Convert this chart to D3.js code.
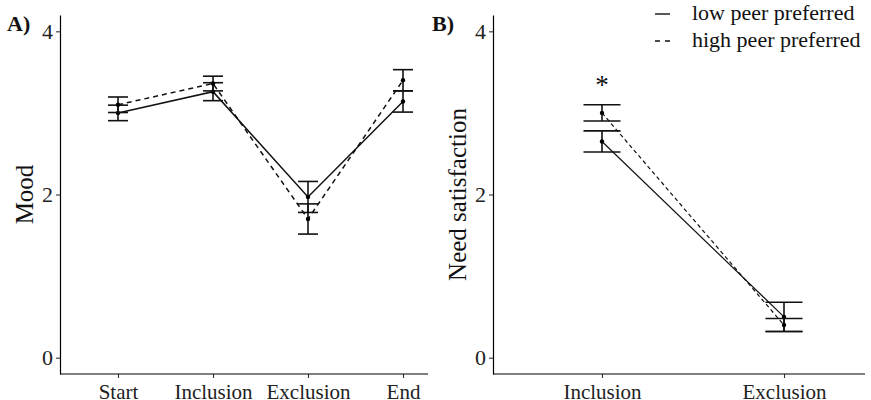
<!DOCTYPE html>
<html>
<head>
<meta charset="utf-8">
<script src="https://cdn.jsdelivr.net/npm/d3@7"></script>
<style>
  body { margin: 0; background: #fff; }
  svg { display: block; font-family: "Liberation Serif", "Times New Roman", serif; }
</style>
</head>
<body>
<div id="chart"></div>
<script>
// mood panel (A)
const moodPhases = ["Start", "Inclusion", "Exclusion", "End"];
const moodLow = [3.00, 3.26, 1.97, 3.14];
const moodLowSE = [0.095, 0.11, 0.19, 0.13];
const moodHigh = [3.10, 3.36, 1.70, 3.40];
const moodHighSE = [0.095, 0.09, 0.185, 0.13];

// need satisfaction panel (B)
const needPhases = ["Inclusion", "Exclusion"];
const needLow = [2.65, 0.50];
const needLowSE = [0.13, 0.18];
const needHigh = [3.00, 0.40];
const needHighSE = [0.10, 0.08];

const yTicks = [0, 2, 4];
const legendLabels = ["low peer preferred", "high peer preferred"];

const width = 871, height = 400;

var svg = d3.select("#chart")
    .append("svg")
    .attr("width", width)
    .attr("height", height);

function drawPanel(opts) {
    const x = d3.scalePoint()
        .domain(opts.phases)
        .range(opts.xRange);
    const y = d3.scaleLinear()
        .domain([-0.2, 4.2])
        .range([374, 15]);

    const g = svg.append("g");

    // axes
    const yAxis = g.append("g")
        .attr("transform", `translate(${opts.axisLeft},0)`)
        .call(d3.axisLeft(y).tickValues(yTicks).tickFormat(d3.format("d"))
            .tickSize(4).tickSizeOuter(0).tickPadding(3));
    yAxis.select(".domain").attr("stroke", "#000").attr("stroke-width", 1.2);
    yAxis.selectAll(".tick line").attr("stroke", "#333").attr("stroke-width", 1.1);
    yAxis.selectAll(".tick text")
        .attr("font-size", 22)
        .attr("fill", "#222")
        .attr("font-family", "Liberation Serif");

    const xAxis = g.append("g")
        .attr("transform", "translate(0,374)")
        .call(d3.axisBottom(x).tickSize(4).tickSizeOuter(0).tickPadding(6));
    xAxis.select(".domain").remove();
    xAxis.append("line")
        .attr("x1", opts.axisLeft)
        .attr("x2", opts.axisRight)
        .attr("stroke", "#000")
        .attr("stroke-width", 1.2);
    xAxis.selectAll(".tick line").attr("stroke", "#333").attr("stroke-width", 1.1);
    xAxis.selectAll(".tick text")
        .attr("font-size", 21)
        .attr("fill", "#222")
        .attr("font-family", "Liberation Serif");

    // axis title
    g.append("text")
        .attr("transform", `translate(${opts.titleX},${(y(-0.2) + y(4.2)) / 2}) rotate(-90)`)
        .attr("text-anchor", "middle")
        .attr("dominant-baseline", "central")
        .attr("font-size", 25)
        .attr("fill", "#111")
        .text(opts.title);

    // panel tag
    g.append("text")
        .attr("x", opts.tagX)
        .attr("y", 31)
        .attr("font-size", 22)
        .attr("font-weight", "bold")
        .attr("fill", "#111")
        .text(opts.tag);

    const series = [
        {mean: opts.low, se: opts.lowSE, dash: null},
        {mean: opts.high, se: opts.highSE, dash: opts.dash}
    ];

    const line = d3.line()
        .x((d) => x(d.phase))
        .y((d) => y(d.v));

    series.forEach(function(s) {
        const pts = opts.phases.map((p, i) => ({phase: p, v: s.mean[i], se: s.se[i]}));

        g.append("path")
            .datum(pts)
            .attr("d", line)
            .attr("fill", "none")
            .attr("stroke", "#111")
            .attr("stroke-width", opts.lineWidth)
            .attr("stroke-dasharray", s.dash);

        const bars = g.selectAll(null)
            .data(pts)
            .enter()
            .append("g");
        bars.append("line")
            .attr("x1", (d) => x(d.phase))
            .attr("x2", (d) => x(d.phase))
            .attr("y1", (d) => y(d.v - d.se))
            .attr("y2", (d) => y(d.v + d.se))
            .attr("stroke", "#111")
            .attr("stroke-width", 1.6);
        [-1, 1].forEach(function(sign) {
            bars.append("line")
                .attr("x1", (d) => x(d.phase) - opts.capWidth / 2)
                .attr("x2", (d) => x(d.phase) + opts.capWidth / 2)
                .attr("y1", (d) => y(d.v + sign * d.se))
                .attr("y2", (d) => y(d.v + sign * d.se))
                .attr("stroke", "#111")
                .attr("stroke-width", 1.6);
        });
        bars.append("circle")
            .attr("cx", (d) => x(d.phase))
            .attr("cy", (d) => y(d.v))
            .attr("r", 2.2)
            .attr("fill", "#000");
    });

    return {x: x, y: y, g: g};
}

drawPanel({
    phases: moodPhases, low: moodLow, lowSE: moodLowSE, high: moodHigh, highSE: moodHighSE,
    xRange: [118, 403], axisLeft: 60, axisRight: 428,
    title: "Mood", titleX: 24, tag: "A)", tagX: 7,
    capWidth: 20, dash: "5,4", lineWidth: 1.5
});

const panelB = drawPanel({
    phases: needPhases, low: needLow, lowSE: needLowSE, high: needHigh, highSE: needHighSE,
    xRange: [602, 784], axisLeft: 493, axisRight: 865,
    title: "Need satisfaction", titleX: 457, tag: "B)", tagX: 432,
    capWidth: 37, dash: "4,3", lineWidth: 1.2
});

// significance marker
panelB.g.append("text")
    .attr("x", panelB.x("Inclusion"))
    .attr("y", 94)
    .attr("text-anchor", "middle")
    .attr("font-size", 27)
    .attr("fill", "#111")
    .text("*");

// legend
const legend = svg.append("g");
legendLabels.forEach(function(label, i) {
    const cy = 14 + i * 27;
    legend.append("line")
        .attr("x1", 655).attr("x2", 670)
        .attr("y1", cy).attr("y2", cy)
        .attr("stroke", "#111")
        .attr("stroke-width", 1.4)
        .attr("stroke-dasharray", i === 0 ? null : "5,5");
    legend.append("text")
        .attr("x", 692)
        .attr("y", cy + 6)
        .attr("font-size", 22)
        .attr("fill", "#111")
        .text(label);
});
</script>
</body>
</html>
